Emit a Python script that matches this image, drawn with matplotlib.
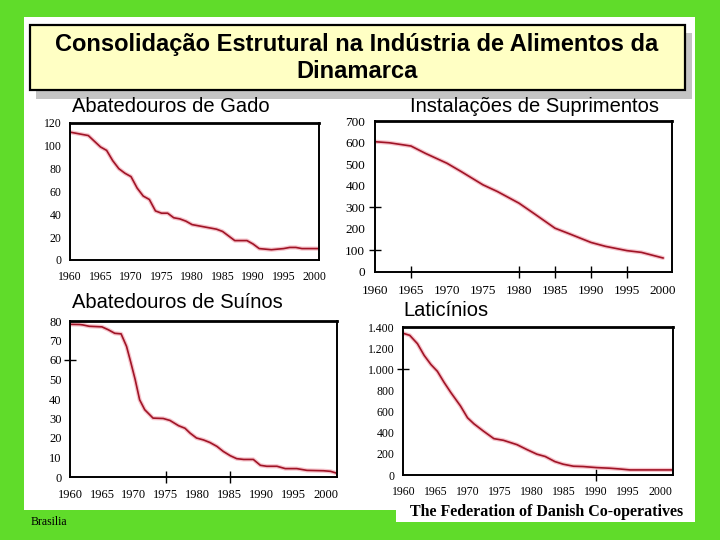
import matplotlib
matplotlib.use("Agg")
import matplotlib.pyplot as plt
from matplotlib.patches import Rectangle
from matplotlib.ticker import FixedLocator

# dados
anos_gado = [1960, 1962, 1963, 1965, 1966, 1967, 1968, 1969, 1970, 1971, 1972, 1973,
             1974, 1975, 1976, 1977, 1978, 1979, 1980, 1982, 1984, 1985, 1986, 1987,
             1989, 1990, 1991, 1993, 1995, 1996, 1997, 1998, 2000, 2001]
gado = [112, 110, 109, 99, 96, 87, 80, 76, 73, 63, 56, 53,
        43, 41, 41, 37, 36, 34, 31, 29, 27, 25, 21, 17,
        17, 14, 10, 9, 10, 11, 11, 10, 10, 10]

anos_sup = [1960, 1962, 1965, 1967, 1970, 1972, 1975, 1977, 1980, 1982, 1985, 1987,
            1990, 1992, 1995, 1997, 2000]
suprimentos = [604, 599, 584, 550, 504, 465, 404, 373, 319, 273, 203, 177,
               137, 119, 99, 91, 65]

anos_suinos = [1960, 1961.5, 1962, 1963, 1965, 1966, 1967, 1968, 1968.85, 1969.5, 1970.2,
               1970.9, 1971.7, 1973, 1974.6, 1975.65, 1977, 1978, 1978.8, 1979.8, 1980.9,
               1981.9, 1983, 1984, 1985.1, 1986.1, 1987.2, 1988.7, 1989.8, 1990.8, 1992.4,
               1993.7, 1995.5, 1997.1, 1999.7, 2000.8, 2001.7]
suinos = [78.3, 78.2, 78, 77.3, 77, 75.5, 73.7, 73.4, 67, 59, 50,
          39.6, 34.5, 30.2, 30, 29, 26.3, 25, 22.5, 20, 19,
          17.7, 15.7, 13.1, 10.9, 9.4, 9, 9, 6, 5.5, 5.5,
          4.3, 4.3, 3.4, 3.2, 2.9, 2]

anos_lat = [1960, 1961, 1962.2, 1963.25, 1964.3, 1965.3, 1966.35, 1967.4, 1968.9, 1970,
            1971, 1972.5, 1974.1, 1975.6, 1977.7, 1979.3, 1980.8, 1982.1, 1983.6, 1984.9,
            1986.5, 1988, 1990.1, 1992.2, 1993.7, 1995.3, 1998.4, 2001.9]
laticinios = [1340, 1321, 1242, 1131, 1045, 981, 876, 780, 653, 541,
              484, 414, 344, 328, 287, 239, 197, 175, 127, 102,
              83, 80, 70, 64, 57, 48, 48, 48]

anos_ticks = [1960, 1965, 1970, 1975, 1980, 1985, 1990, 1995, 2000]
lat_ticks = [0, 200, 400, 600, 800, 1000, 1200, 1400]
lat_labels = ["0", "200", "400", "600", "800", "1.000", "1.200", "1.400"]

verde = "#60dc2a"
vermelho = "#a01426"
halo = "#f6c4cc"
serif = ["Liberation Serif", "DejaVu Serif"]
sans = ["Liberation Sans", "DejaVu Sans"]

W, H = 720, 540
fig = plt.figure(figsize=(7.2, 5.4), dpi=100, facecolor=verde)


def px(x0, y0, x1, y1):
    # retângulo em pixels (topo-esquerda) -> fração da figura
    return [x0 / W, 1 - y1 / H, (x1 - x0) / W, (y1 - y0) / H]


def ret(x0, y0, x1, y1, **kw):
    l, b, w, h = px(x0, y0, x1, y1)
    fig.patches.append(Rectangle((l, b), w, h, transform=fig.transFigure, **kw))


# fundo branco
ret(24, 17, 695, 510, facecolor="white", edgecolor="none", zorder=-5)
ret(396, 505, 695, 522, facecolor="white", edgecolor="none", zorder=-5)

# caixa do título com sombra
ret(36, 33, 692, 99, facecolor="#c4c4c4", edgecolor="none", zorder=1)
ret(30, 25, 685, 90, facecolor="#ffffc4", edgecolor="black", linewidth=1.6, zorder=2)
fig.text(357 / W, 1 - 45 / H, "Consolidação Estrutural na Indústria de Alimentos da",
         ha="center", va="center", fontsize=17, family=sans, fontweight="bold", zorder=3)
fig.text(357 / W, 1 - 72 / H, "Dinamarca", ha="center", va="center",
         fontsize=17, family=sans, fontweight="bold", zorder=3)


def grafico(rect, anos, valores, xlim, ylim, yticks, ylabels, xt_marks, yt_marks,
            fs, xpad, ypad):
    ax = fig.add_axes(px(*rect), zorder=4)
    ax.plot(anos, valores, color=halo, lw=3.0, solid_capstyle="round")
    ax.plot(anos, valores, color=vermelho, lw=1.2)
    ax.set_xlim(*xlim)
    ax.set_ylim(*ylim)
    ax.set_xticks(anos_ticks)
    ax.set_yticks(yticks)
    ax.set_yticklabels(ylabels)
    ax.tick_params(which="major", length=0)
    ax.tick_params(axis="x", pad=xpad)
    ax.tick_params(axis="y", pad=ypad)
    for lab in ax.get_xticklabels() + ax.get_yticklabels():
        lab.set_family(serif)
        lab.set_fontsize(fs)
    # marcas isoladas que cruzam o eixo
    ax.xaxis.remove_overlapping_locs = False
    ax.yaxis.remove_overlapping_locs = False
    ax.xaxis.set_minor_locator(FixedLocator(xt_marks))
    ax.yaxis.set_minor_locator(FixedLocator(yt_marks))
    ax.tick_params(which="minor", direction="inout", length=8, width=1)
    for s in ax.spines.values():
        s.set_linewidth(1.4)
    ax.spines["top"].set_linewidth(2)
    return ax


grafico((70, 123, 319, 260), anos_gado, gado, (1960, 2000.8), (0, 120),
        range(0, 121, 20), [str(v) for v in range(0, 121, 20)], [], [], 8.5, 8, 6)
grafico((375, 121, 672, 272), anos_sup, suprimentos, (1960, 2001.25), (0, 700),
        range(0, 701, 100), [str(v) for v in range(0, 701, 100)],
        [1965, 1980, 1985, 1990, 1995], [300, 100], 9.5, 9, 7)
grafico((70, 321, 337, 477), anos_suinos, suinos, (1960, 2001.8), (0, 80),
        range(0, 81, 10), [str(v) for v in range(0, 81, 10)], [1975, 1985], [60], 9, 9, 6)
grafico((403, 327, 673, 475), anos_lat, laticinios, (1959.95, 2002), (0, 1400),
        lat_ticks, lat_labels, [1990], [1000], 8.5, 8, 6)

# títulos dos gráficos
fig.text(72 / W, 1 - 106 / H, "Abatedouros de Gado", ha="left", va="center",
         fontsize=14.5, family=sans)
fig.text(410 / W, 1 - 106 / H, "Instalações de Suprimentos", ha="left", va="center",
         fontsize=14.5, family=sans)
fig.text(72 / W, 1 - 303 / H, "Abatedouros de Suínos", ha="left", va="center",
         fontsize=14.5, family=sans)
fig.text(403 / W, 1 - 310 / H, "Laticínios", ha="left", va="center",
         fontsize=14.5, family=sans)

fig.text(410 / W, 1 - 512 / H, "The Federation of Danish Co-operatives", ha="left",
         va="center", fontsize=11.5, family=serif, fontweight="bold")
fig.text(31 / W, 1 - 522 / H, "Brasilia", ha="left", va="center", fontsize=8.5,
         family=serif)

fig.savefig("out.png", dpi=100, facecolor=verde)
